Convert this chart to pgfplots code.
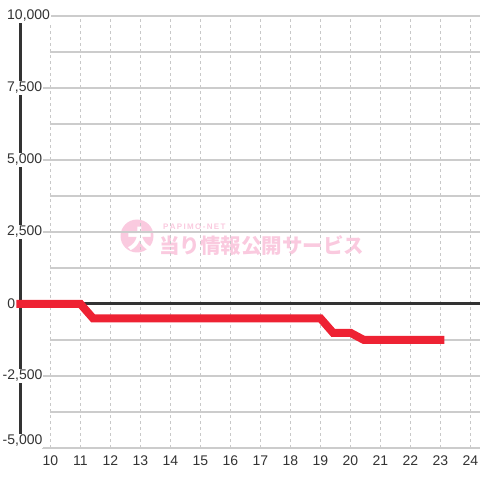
\documentclass[border=0pt]{standalone}
\usepackage{pgfplots}
\pgfplotsset{compat=1.18}
\usepackage{fontspec}
\setmainfont{Liberation Sans}
\newfontfamily\cjk{Noto Sans CJK JP}
\definecolor{gridc}{HTML}{CCCCCC}
\definecolor{vgridc}{HTML}{C8C8C8}
\definecolor{axc}{HTML}{333333}
\definecolor{redc}{HTML}{EE2233}
\definecolor{wm}{RGB}{250,202,223}
\begin{document}
\fontsize{14pt}{16pt}\selectfont
\begin{tikzpicture}[x=1pt,y=1pt]
\useasboundingbox (0,0) rectangle (480,480);
% watermark
\fill[wm] (137,244) circle (16.5);
\node[text=white,font={\cjk\bfseries\fontsize{25pt}{25pt}\selectfont},inner sep=0] at (140,241) {大};
\node[anchor=west,text=wm,font={\cjk\bfseries\fontsize{20.5pt}{21pt}\selectfont},inner sep=0] at (159,234) {当り情報公開サービス};
\node[anchor=west,text=wm,font={\bfseries\fontsize{8pt}{8pt}\selectfont},inner sep=0] at (163,253.5) {P\,A\,P\,I\,M\,O\,-\,N\,E\,T};
\begin{axis}[
  at={(20.5pt,32pt)}, anchor=south west,
  scale only axis, width=459.5pt, height=432pt,
  xmin=9, xmax=24.317, ymin=-5000, ymax=10000,
  clip=false,
  axis line style={draw=none},
  major tick length=0pt,
  ytick=\empty,
  xtick={10,...,24},
  xticklabel style={text=axc, font=\fontsize{14pt}{16pt}\selectfont, inner sep=0pt, anchor=north, yshift=-7.5pt},
  /pgf/number format/assume math mode=true,
]
% vertical dotted grid
\pgfplotsinvokeforeach{10,...,24}{
  \draw[vgridc, line width=1pt, dash pattern=on 3pt off 3pt] (axis cs:#1,-5000) -- (axis cs:#1,10000);
}
% horizontal grid (unlabelled)
\pgfplotsinvokeforeach{-3750,-1250,1250,3750,6250,8750}{
  \draw[gridc, line width=1.3pt] (axis cs:9.98,#1) -- (axis cs:24.317,#1);
}
% horizontal grid (labelled)
\pgfplotsinvokeforeach{-5000,-2500,2500,5000,7500,10000}{
  \draw[gridc, line width=1.3pt] (axis cs:9.72,#1) -- (axis cs:24.317,#1);
}
% y axis line
\draw[axc, line width=3pt] (axis cs:9,10000) -- (axis cs:9,-4650);
% y labels
\tikzset{ylab/.style={anchor=west, fill=white, text=axc, inner xsep=0.6pt, inner ysep=1.5pt, font=\fontsize{14pt}{16pt}\selectfont}}
\node[ylab] at (axis cs:8.53,10000) {10,000};
\node[ylab] at (axis cs:8.53,7500) {7,500};
\node[ylab] at (axis cs:8.53,5000) {5,000};
\node[ylab] at (axis cs:8.53,2500) {2,500};
\node[ylab,inner xsep=0pt] at (axis cs:8.56,0) {0};
\node[ylab] at (axis cs:8.38,-2500) {-2,500};
\node[ylab,yshift=7pt] at (axis cs:8.38,-5000) {-5,000};
% zero line
\addplot[axc, line width=3pt, no markers] coordinates {(8.88,0) (24.317,0)};
% data
\addplot[redc, line width=8pt, no markers, line cap=rect, line join=miter] coordinates {
(9,0) (10,0) (11,0) (11.42,-500) (12,-500) (13,-500) (14,-500) (15,-500) (16,-500) (17,-500) (18,-500) (19,-500) (19.42,-1000) (20,-1000) (20.45,-1250) (21,-1250) (22,-1250) (23,-1250)
};
\end{axis}
\end{tikzpicture}
\end{document}
